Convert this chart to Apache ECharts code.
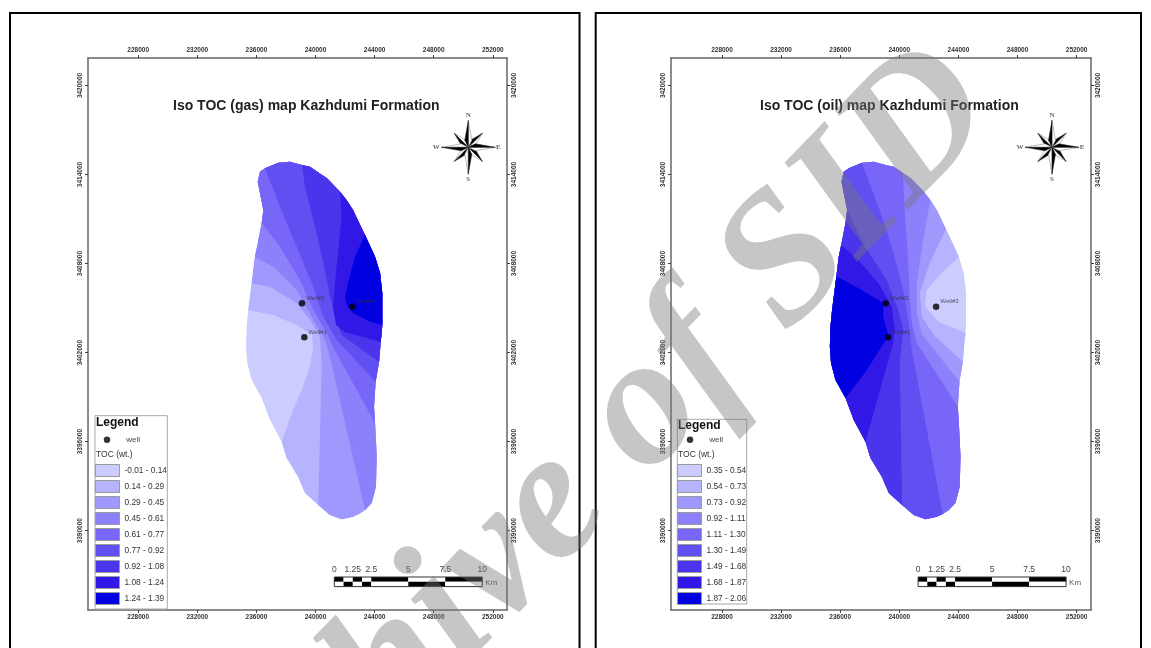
<!DOCTYPE html>
<html><head><meta charset="utf-8">
<script src="https://cdn.jsdelivr.net/npm/echarts@6/dist/echarts.min.js"></script>
<style>html,body{margin:0;padding:0;background:#fff}#c{width:1151px;height:648px}</style>
</head><body><div id="c"></div>
<script>
const eastTicks=[228000,232000,236000,240000,244000,248000,252000];
const northTicks=[3390000,3396000,3402000,3408000,3414000,3420000];
const gasClasses=['-0.01 - 0.14','0.14 - 0.29','0.29 - 0.45','0.45 - 0.61','0.61 - 0.77','0.77 - 0.92','0.92 - 1.08','1.08 - 1.24','1.24 - 1.39'];
const oilClasses=['0.35 - 0.54','0.54 - 0.73','0.73 - 0.92','0.92 - 1.11','1.11 - 1.30','1.30 - 1.49','1.49 - 1.68','1.68 - 1.87','1.87 - 2.06'];
const classColors=['#ccccff','#b6b3ff','#a099fd','#8c80fb','#7766f7','#6050f2','#4a35ec','#3218e6','#0000e0'];
const wells=[[239242,3403031,'Well#1'],[239086,3405322,'Well#2'],[242490,3405093,'Well#3']];
const scaleStops=[0,0.625,1.25,1.875,2.5,5,7.5,10];
const scaleLabels=[[0,'0'],[1.25,'1.25'],[2.5,'2.5'],[5,'5'],[7.5,'7.5'],[10,'10']];
// formation outline, clockwise from the north tip (easting, northing)
const outline=[[238270,3414860],[239070,3414640],[239630,3414530],[240240,3414100],[240760,3413770],[241660,3412840],[242100,3412280],[242540,3411610],[243150,3410330],[243350,3409920],[244030,3408460],[244370,3407360],[244520,3406020],[244520,3403860],[244480,3403320],[244410,3402720],[244300,3401370],[244070,3400040],[243960,3398360],[244030,3397260],[244090,3396110],[244140,3394990],[244090,3392960],[243800,3391870],[243350,3391400],[242940,3391130],[242540,3390940],[241770,3390770],[240980,3391060],[240190,3391730],[239290,3392540],[238820,3393640],[238050,3394900],[237710,3396000],[236920,3397460],[236360,3398940],[235680,3400150],[235380,3401300],[235300,3402400],[235340,3403750],[235450,3404870],[235680,3406670],[235740,3407120],[235900,3408460],[236070,3409250],[236360,3410730],[236470,3411610],[236240,3412750],[236090,3413520],[236240,3414190],[236580,3414420],[237480,3414800]];
// class boundaries, gas map: first/last points lie on the outline
const gasBoundaries=[
[[235450,3404870],[237140,3404530],[238730,3403860],[239760,3403190],[239830,3402380],[239630,3401030],[239070,3399480],[238480,3398130],[237710,3396000]],
[[235680,3406670],[236920,3406440],[238730,3405320],[239630,3404200],[240300,3403050],[240420,3401300],[240190,3391730]],
[[235900,3408460],[237140,3407790],[238730,3406220],[239740,3404420],[240640,3402850],[240980,3401700],[243350,3391400]],
[[236360,3410730],[237600,3409140],[238950,3406890],[239970,3404670],[240850,3403190],[241180,3402380],[244030,3397260]],
[[236580,3414420],[237600,3411830],[238730,3409140],[239850,3406440],[240530,3404420],[241120,3403390],[241440,3402850],[244070,3400040]],
[[239070,3414640],[239290,3413180],[239970,3410480],[240530,3408040],[240980,3405770],[241320,3404420],[241770,3403190],[244300,3401370]],
[[241660,3412840],[241770,3411160],[241540,3408910],[241320,3406690],[241180,3405070],[241390,3403860],[242000,3403390],[244410,3402720]],
[[243350,3409920],[242670,3408460],[242200,3406690],[242000,3405770],[242130,3405140],[242540,3404670],[243690,3404080],[244520,3403860]]
];
// class boundaries, oil map
const oilBoundaries=[
[[244030,3408460],[242870,3407360],[241850,3406220],[241740,3405090],[242640,3404080],[244480,3403320]],
[[243150,3410330],[242060,3408040],[241390,3406020],[241520,3404420],[242340,3403190],[244300,3401370]],
[[242100,3412280],[241620,3409590],[241180,3406690],[241180,3404670],[241520,3403250],[244070,3400040]],
[[240240,3414100],[240390,3411160],[240610,3408040],[240710,3405540],[240850,3404000],[241180,3402650],[243960,3398360]],
[[237480,3414800],[238580,3411830],[239490,3409140],[240270,3406220],[240610,3404200],[240840,3402180],[242940,3391130]],
[[236470,3411610],[237670,3409140],[239150,3406890],[239930,3404870],[240270,3403520],[240030,3401300],[240190,3391730]],
[[236070,3409250],[237220,3408240],[238580,3406690],[239490,3405090],[239700,3403520],[239590,3402650],[237710,3396000]],
[[235740,3407120],[237220,3406350],[238920,3405340],[238920,3404420],[239260,3403120],[237670,3400630],[236360,3398940]]
];

function nearest(p){let b=0,d=1e18;outline.forEach((q,i)=>{const v=(q[0]-p[0])**2+(q[1]-p[1])**2;if(v<d){d=v;b=i}});return b}
function walk(a,b){const r=[];const n=outline.length;for(let i=a;;i=(i+1)%n){r.push(outline[i]);if(i===b)break}return r}
// gas: the higher classes lie east of a boundary; oil: west of it
function ringEast(bd){return walk(nearest(bd[0]),nearest(bd[bd.length-1])).concat(bd.slice(1,-1).reverse())}
function ringWest(bd){return walk(nearest(bd[bd.length-1]),nearest(bd[0])).concat(bd.slice(1,-1))}
const gasRings=[outline].concat(gasBoundaries.map(ringEast));
const oilRings=[outline].concat(oilBoundaries.map(ringWest));

function bandSeries(name,ring,color,axis,z){
  return {type:'custom',name,xAxisIndex:axis,yAxisIndex:axis,z,clip:false,silent:true,
    itemStyle:{color,borderColor:'#9a9a9a',borderWidth:1},
    encode:{x:0,y:1},data:ring,
    renderItem(p,api){ if(p.dataIndex!==0) return null;
      return {type:'polygon',shape:{points:ring.map(q=>api.coord(q))},style:{fill:color}}; }};
}
function wellSeries(axis){
  return {type:'scatter',name:'well',xAxisIndex:axis,yAxisIndex:axis,z:20,symbolSize:6.5,
    itemStyle:{color:'#000'},data:wells,
    label:{show:true,position:'right',distance:0,offset:[1,-5],fontSize:6,color:'#333',fontFamily:'Liberation Sans',formatter:p=>p.value[2]}};
}
const series=[];
gasRings.forEach((r,i)=>series.push(bandSeries(gasClasses[i],r,classColors[i],0,2+i)));
series.push(wellSeries(0));
oilRings.forEach((r,i)=>series.push(bandSeries(oilClasses[i],r,classColors[i],2,2+i)));
series.push(wellSeries(2));

const lab={fontSize:6.5,fontWeight:'bold',color:'#333',fontFamily:'Liberation Sans',formatter:v=>String(v)};
const line={show:true,onZero:false,lineStyle:{color:'#666',width:1.5}};
function xAx(g,pos,min,max){return {type:'value',gridIndex:g,position:pos,min,max,axisLine:line,splitLine:{show:false},
  axisTick:{show:true,length:3,lineStyle:{color:'#444',width:1},customValues:eastTicks},
  axisLabel:Object.assign({show:true,margin:4,customValues:eastTicks},lab)}}
function yAx(g,pos,min,max){return {type:'value',gridIndex:g,position:pos,min,max,axisLine:line,splitLine:{show:false},
  axisTick:{show:true,length:3,lineStyle:{color:'#444',width:1},customValues:northTicks},
  axisLabel:Object.assign({show:true,margin:4,rotate:90,customValues:northTicks},lab)}}
const nMin=3384657,nMax=3421851;

function legends(items,left,wellLeft){return [
 {data:['well'],left:wellLeft,top:435.75,itemWidth:6.5,itemHeight:6.5,orient:'vertical',selectedMode:false,padding:0,textStyle:{fontSize:8,color:'#444',fontFamily:'Liberation Sans',padding:[0,0,0,11]}},
 {data:items,left,top:464,itemWidth:24,itemHeight:12,itemGap:3,orient:'vertical',selectedMode:false,padding:0,icon:'rect',
  itemStyle:{borderColor:'#9a9a9a',borderWidth:1},textStyle:{fontSize:8.3,color:'#333',fontFamily:'Liberation Sans'}}
]}

const g=[];
function frame(x,w){g.push({type:'rect',z:1,shape:{x,y:13,width:w,height:700},style:{fill:'none',stroke:'#000',lineWidth:2}})}
frame(10,569.5);frame(595.7,545.3);
function txt(x,y,t,o){g.push({type:'text',x,y,z:30,style:Object.assign({text:t,fontFamily:'Liberation Sans',fontSize:8,fill:'#333',align:'left',verticalAlign:'middle'},o||{})})}
function legendBox(x,y,w,h,tx,ty){
  g.push({type:'rect',z:3,shape:{x,y,width:w,height:h},style:{fill:'#fff',stroke:'#a8a8a8',lineWidth:1}});
  txt(tx,ty,'Legend',{fontSize:12,fontWeight:'bold',fill:'#111'});
  txt(tx,455,'TOC (wt.)',{fontSize:8.5});
}
legendBox(95,415.7,72.3,193.3,96,423);
legendBox(677.3,419.3,69.4,184.7,678,426);

function compass(cx,cy){
  const ch=[];const spike=(deg,r,hw,inner)=>{const a=deg*Math.PI/180;const u=[Math.sin(a),-Math.cos(a)],v=[Math.cos(a),Math.sin(a)];
    const tip=[u[0]*r,u[1]*r];const s1=[u[0]*inner+v[0]*hw,u[1]*inner+v[1]*hw],s2=[u[0]*inner-v[0]*hw,u[1]*inner-v[1]*hw];
    ch.push({type:'polygon',shape:{points:[[0,0],tip,s1]},style:{fill:'#fff',stroke:'#777',lineWidth:.5}});
    ch.push({type:'polygon',shape:{points:[[0,0],tip,s2]},style:{fill:'#000',stroke:'#222',lineWidth:.5}});};
  [45,135,225,315].forEach(d=>spike(d,20,3.5,6));
  [0,90,180,270].forEach(d=>spike(d,27,3.5,7));
  [['N',0,-32],['S',0,32],['W',-32,0],['E',30,0]].forEach(l=>ch.push({type:'text',x:l[1],y:l[2],style:{text:l[0],fontFamily:'Liberation Serif',fontSize:7,fontWeight:'bold',fill:'#666',align:'center',verticalAlign:'middle'}}));
  g.push({type:'group',x:cx,y:cy,z:30,children:ch});
}
compass(468.3,147.3);compass(1052,147.3);

function scaleBar(x0,y0){
  const k=14.8,h=4.8;
  for(let i=0;i<scaleStops.length-1;i++){
    const a=x0+scaleStops[i]*k,w=(scaleStops[i+1]-scaleStops[i])*k;
    g.push({type:'rect',z:30,shape:{x:a,y:y0,width:w,height:h},style:{fill:i%2?'#fff':'#000'}});
    g.push({type:'rect',z:30,shape:{x:a,y:y0+h,width:w,height:h},style:{fill:i%2?'#000':'#fff'}});
  }
  g.push({type:'rect',z:31,shape:{x:x0,y:y0,width:10*k,height:2*h},style:{fill:'none',stroke:'#333',lineWidth:1}});
  scaleLabels.forEach(l=>txt(x0+l[0]*k,y0-7,l[1],{fontSize:8.5,align:'center',fill:'#444'}));
  txt(x0+10*k+3,y0+6,'Km',{fontSize:8,fill:'#555'});
}
scaleBar(334.3,577);scaleBar(918.1,577);

g.push({type:'text',x:967,y:80,rotation:0.8,z:1000,silent:true,style:{text:'Archive of SID',fontFamily:'Liberation Serif',fontWeight:'bold',fontStyle:'italic',fontSize:185,fill:'rgba(120,120,120,0.42)',align:'right',verticalAlign:'middle'}});

const chart=echarts.init(document.getElementById('c'),null,{renderer:'canvas'});
chart.setOption({animation:false,backgroundColor:'#fff',
  title:[
   {text:'Iso TOC (gas) map Kazhdumi Formation',left:173,top:99,padding:0,textStyle:{fontSize:14,fontWeight:'bold',color:'#222',fontFamily:'Liberation Sans'}},
   {text:'Iso TOC (oil) map Kazhdumi Formation',left:760,top:99,padding:0,textStyle:{fontSize:14,fontWeight:'bold',color:'#222',fontFamily:'Liberation Sans'}}
  ],
  grid:[{left:88,top:58,width:419,height:552},{left:671,top:58,width:420,height:552}],
  xAxis:[xAx(0,'bottom',224603,252960),xAx(0,'top',224603,252960),xAx(1,'bottom',224548,252974),xAx(1,'top',224548,252974)],
  yAxis:[yAx(0,'left',nMin,nMax),yAx(0,'right',nMin,nMax),yAx(1,'left',nMin,nMax),yAx(1,'right',nMin,nMax)],
  legend:legends(gasClasses,95,103.75).concat(legends(oilClasses,677,686.75)),
  graphic:{elements:g},
  series
});
</script></body></html>
